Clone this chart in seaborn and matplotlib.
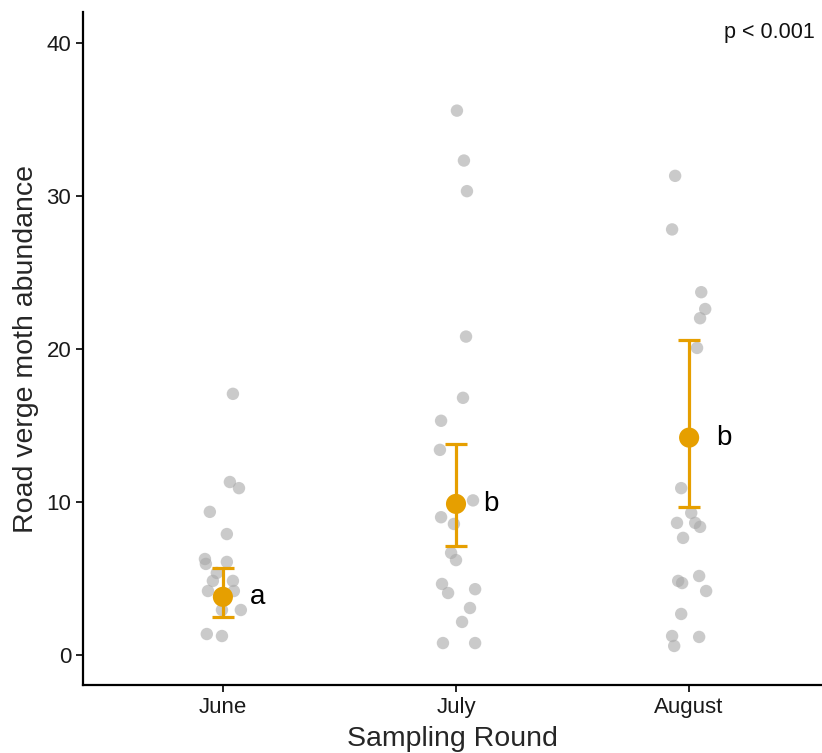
import numpy as np
import pandas as pd
import matplotlib
matplotlib.use("Agg")
import matplotlib.pyplot as plt
import seaborn as sns

categories = ["June", "July", "August"]

june_vals = [17.06, 11.3, 10.9, 9.35, 7.9, 6.27, 5.95, 6.08, 5.36, 4.84, 4.84, 4.18, 4.18, 2.94, 2.94, 1.37, 1.24]
june_jit = [0.043, 0.03, 0.069, -0.056, 0.017, -0.077, -0.073, 0.017, -0.026, -0.043, 0.043, -0.064, 0.047, -0.004, 0.077, -0.069, -0.004]

july_vals = [35.56, 32.3, 30.3, 20.8, 16.8, 15.3, 13.4, 10.1, 9.0, 8.56, 6.67, 6.2, 4.64, 4.05, 4.3, 3.07, 2.16, 0.78, 0.78]
july_jit = [0.004, 0.034, 0.047, 0.043, 0.03, -0.064, -0.069, 0.073, -0.064, -0.009, -0.021, 0.0, -0.06, -0.034, 0.082, 0.06, 0.026, -0.056, 0.082]

aug_vals = [31.3, 27.8, 23.7, 22.6, 22.0, 20.06, 10.9, 9.28, 8.63, 8.63, 8.37, 7.65, 4.84, 4.7, 5.16, 4.18, 2.68, 1.24, 1.18, 0.59]
aug_jit = [-0.06, -0.073, 0.052, 0.069, 0.047, 0.034, -0.034, 0.009, -0.052, 0.026, 0.047, -0.026, -0.047, -0.03, 0.043, 0.073, -0.034, -0.073, 0.043, -0.064]

means = [3.8, 9.87, 14.2]
ci_low = [2.5, 7.1, 9.7]
ci_high = [5.7, 13.8, 20.6]
letters = ["a", "b", "b"]
p_text = "p < 0.001"

sns.set_theme(style="ticks")
plt.rcParams["font.family"] = ["Liberation Sans", "DejaVu Sans"]

rows = []
for i, (vals, jit) in enumerate([(june_vals, june_jit), (july_vals, july_jit), (aug_vals, aug_jit)]):
    for v, j in zip(vals, jit):
        rows.append({"month": categories[i], "x": i + j, "abundance": v})
df = pd.DataFrame(rows)

summ = pd.DataFrame({"month": categories, "x": np.arange(3), "mean": means,
                     "lo": ci_low, "hi": ci_high, "letter": letters})

fig = plt.figure(figsize=(8.22, 7.53), dpi=100)
ax = fig.add_axes([0.101, 0.0903, 0.899, 0.8937])

sns.scatterplot(data=df, x="x", y="abundance", ax=ax, color="#a8a8a8", alpha=0.6,
                s=80, edgecolor="none", legend=False, zorder=2)

ax.errorbar(summ["x"], summ["mean"],
            yerr=[summ["mean"] - summ["lo"], summ["hi"] - summ["mean"]],
            fmt="none", ecolor="#E69F00", elinewidth=2.3, capsize=8, capthick=2.3, zorder=3)
sns.scatterplot(data=summ, x="x", y="mean", ax=ax, color="#E69F00", s=210,
                edgecolor="none", legend=False, zorder=4)

for _, r in summ.iterrows():
    ax.text(r["x"] + 0.115, r["mean"], r["letter"], fontsize=20, va="center", ha="left", color="black")

ax.text(0.99, 0.97, p_text, transform=ax.transAxes, ha="right", va="center", fontsize=15.5,
        color="#111111")

ax.set_xlim(-0.6, 2.57)
ax.set_ylim(-1.96, 42.0)
ax.set_xticks(range(3))
ax.set_xticklabels(categories)
ax.set_yticks([0, 10, 20, 30, 40])
ax.tick_params(axis="both", labelsize=16, length=5, width=1.2, color="black", labelcolor="#1a1a1a")
ax.set_xlabel("Sampling Round", fontsize=20.5, labelpad=6)
ax.set_ylabel("Road verge moth abundance", fontsize=20.5, labelpad=5)
for s in ["top", "right"]:
    ax.spines[s].set_visible(False)
for s in ["left", "bottom"]:
    ax.spines[s].set_linewidth(1.6)
    ax.spines[s].set_color("black")

fig.savefig("out.png", dpi=100)
